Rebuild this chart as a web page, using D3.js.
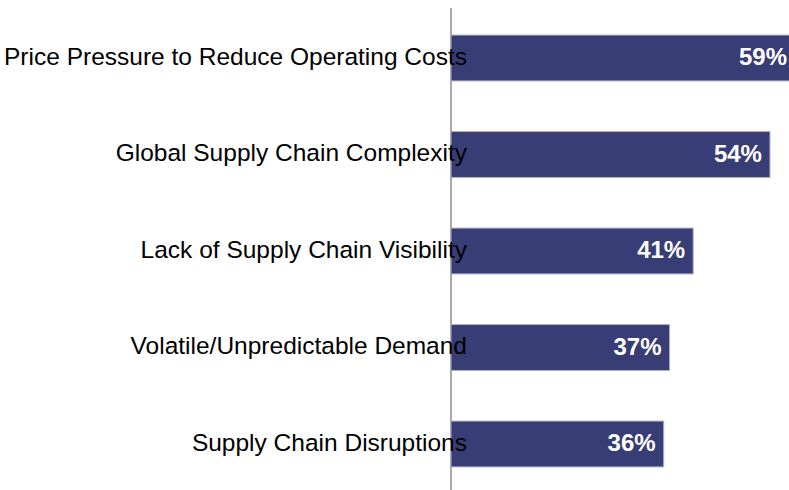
<!DOCTYPE html>
<html>
<head>
<meta charset="utf-8">
<script src="https://cdn.jsdelivr.net/npm/d3@7"></script>
<style>
  html, body { margin: 0; padding: 0; background: #fff; }
  svg { display: block; }
</style>
</head>
<body>
<svg id="chart" width="789" height="490"></svg>
<script>
// chart data
const categories = [
    "Price Pressure to Reduce Operating Costs",
    "Global Supply Chain Complexity",
    "Lack of Supply Chain Visibility",
    "Volatile/Unpredictable Demand",
    "Supply Chain Disruptions"
];
const values = [59, 54, 41, 37, 36];

const svg = d3.select("#chart");
const width = +svg.attr("width");
const height = +svg.attr("height");

const axisX = 451;
const axisTop = 8;

const y = d3.scaleBand()
    .domain(categories)
    .range([axisTop + 2, height + 2])
    .paddingInner(0.525)
    .paddingOuter(0.26);

const x = d3.scaleLinear()
    .domain([0, 60])
    .range([axisX, axisX + 354.4]);

// vertical axis line
svg.append("line")
    .attr("x1", axisX).attr("x2", axisX)
    .attr("y1", axisTop).attr("y2", height)
    .attr("stroke", "#8c8c8c")
    .attr("stroke-width", 1.5);

// bars
svg.selectAll("rect.bar")
    .data(values)
    .enter().append("rect")
    .attr("class", "bar")
    .attr("x", x(0))
    .attr("y", (d, i) => y(categories[i]))
    .attr("width", d => x(d) - x(0))
    .attr("height", y.bandwidth())
    .attr("fill", "#383d75")
    .attr("stroke", "#a9adc6")
    .attr("stroke-width", 1);

// category labels (drawn over the bars)
svg.selectAll("text.cat")
    .data(categories)
    .enter().append("text")
    .attr("class", "cat")
    .attr("x", axisX + 16)
    .attr("y", d => y(d) + y.bandwidth() / 2)
    .attr("dy", "0.28em")
    .attr("text-anchor", "end")
    .attr("font-family", "Liberation Sans, Arial, sans-serif")
    .attr("font-size", 24.5)
    .attr("fill", "#000")
    .text(d => d);

// value labels, kept inside the visible area
svg.selectAll("text.val")
    .data(values)
    .enter().append("text")
    .attr("class", "val")
    .attr("x", d => Math.min(x(d) - 8, width - 2))
    .attr("y", (d, i) => y(categories[i]) + y.bandwidth() / 2)
    .attr("dy", "0.3em")
    .attr("text-anchor", "end")
    .attr("font-family", "Liberation Sans, Arial, sans-serif")
    .attr("font-weight", "bold")
    .attr("font-size", 24)
    .attr("fill", "#fff")
    .text(d => d + "%");
</script>
</body>
</html>
